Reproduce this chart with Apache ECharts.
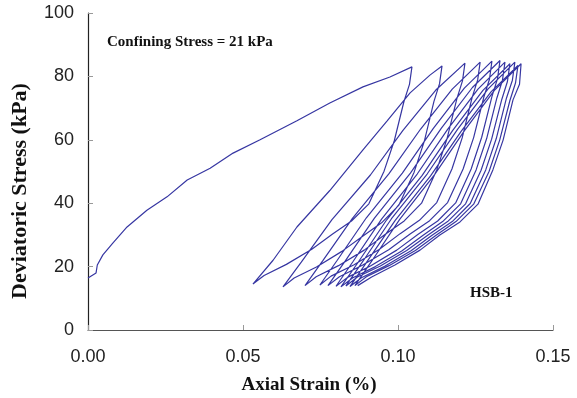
<!DOCTYPE html>
<html>
<head>
<meta charset="utf-8">
<script src="https://cdn.jsdelivr.net/npm/echarts@6/dist/echarts.min.js"></script>
<style>html,body{margin:0;padding:0;background:#fff}#c{width:577px;height:398px}</style>
</head>
<body>
<div id="c"></div>
<script>
// Axis ticks
const xTicks = [0, 0.05, 0.10, 0.15];
const yTicks = [0, 20, 40, 60, 80, 100];

// Initial loading branch (axial strain %, deviatoric stress kPa)
const initialLoading = [[0,16.4],[0.0026,18],[0.003,20.5],[0.0048,23.7],[0.008,27.4],[0.0126,32.5],[0.019,37.8],[0.0255,42],[0.032,47.3],[0.0394,51],[0.0468,55.8],[0.0555,60],[0.0674,66],[0.078,71.6],[0.0887,76.7],[0.0974,79.8],[0.1045,83]];

// Unloading branches (peak -> trough)
const unload1 = [[0.1045,83.0],[0.1037,77.5],[0.1019,72.0],[0.0988,59.7],[0.0955,50.1],[0.0906,39.8],[0.0850,34.4],[0.0789,30.3],[0.0722,25.5],[0.0640,20.7],[0.0568,17.2],[0.0532,14.5]];
const unload2 = [[0.1142,83.3],[0.1134,77.7],[0.1116,72.1],[0.1085,59.6],[0.1052,49.8],[0.1003,39.4],[0.0947,33.8],[0.0886,29.6],[0.0819,24.8],[0.0737,19.9],[0.0665,16.4],[0.0629,13.6]];
const unload3 = [[0.1216,84.2],[0.1208,78.6],[0.1190,73.0],[0.1158,60.3],[0.1125,50.5],[0.1076,40.0],[0.1020,34.4],[0.0958,30.1],[0.0891,25.2],[0.0808,20.3],[0.0736,16.8],[0.0700,14.0]];
const unload4 = [[0.1265,84.5],[0.1257,78.9],[0.1239,73.3],[0.1207,60.6],[0.1174,50.8],[0.1125,40.2],[0.1069,34.6],[0.1007,30.4],[0.0939,25.4],[0.0857,20.5],[0.0784,17.0],[0.0748,14.2]];
const unload5 = [[0.1303,84.8],[0.1295,79.1],[0.1277,73.5],[0.1244,60.7],[0.1210,50.8],[0.1160,40.2],[0.1102,34.5],[0.1039,30.3],[0.0970,25.3],[0.0885,20.4],[0.0811,16.8],[0.0774,14.0]];
const unload6 = [[0.1329,85.0],[0.1321,79.3],[0.1303,73.6],[0.1270,60.8],[0.1236,50.8],[0.1186,40.1],[0.1128,34.4],[0.1065,30.2],[0.0996,25.2],[0.0911,20.2],[0.0837,16.6],[0.0800,13.8]];
const unload7 = [[0.1345,84.5],[0.1337,78.8],[0.1319,73.2],[0.1286,60.4],[0.1252,50.5],[0.1202,39.8],[0.1144,34.2],[0.1081,29.9],[0.1012,24.9],[0.0927,20.0],[0.0853,16.4],[0.0816,13.6]];
const unload8 = [[0.1361,84.0],[0.1353,78.4],[0.1335,72.8],[0.1302,60.2],[0.1268,50.4],[0.1218,39.8],[0.1160,34.2],[0.1097,30.0],[0.1028,25.1],[0.0943,20.2],[0.0869,16.7],[0.0832,13.9]];
const unload9 = [[0.1377,84.5],[0.1369,78.8],[0.1350,73.2],[0.1317,60.4],[0.1283,50.5],[0.1233,39.9],[0.1175,34.2],[0.1111,30.0],[0.1042,25.0],[0.0957,20.1],[0.0882,16.5],[0.0845,13.7]];
const unload10 = [[0.1387,83.5],[0.1379,77.9],[0.1361,72.4],[0.1328,59.9],[0.1294,50.1],[0.1244,39.7],[0.1187,34.2],[0.1124,30.0],[0.1056,25.1],[0.0971,20.3],[0.0898,16.8],[0.0861,14.0]];
const unload11 = [[0.1397,84.0],[0.1392,77.5],[0.1371,72.6],[0.1339,59.9],[0.1306,50.5],[0.1258,39.7],[0.1200,34.1],[0.1135,30.0],[0.1071,25.2],[0.0990,20.5],[0.0915,16.7],[0.0870,14.0]];

// Reloading branches (trough -> next peak)
const reload1 = [[0.0532,14.5],[0.0597,22.0],[0.0674,32.5],[0.0780,44.0],[0.0887,56.8],[0.0965,66.0],[0.1039,74.8],[0.1103,80.4],[0.1142,83.3]];
const reload2 = [[0.0629,13.6],[0.0688,21.4],[0.0787,34.8],[0.0911,48.9],[0.1016,63.0],[0.1122,75.7],[0.1216,84.2]];
const reload3 = [[0.0700,14.0],[0.0757,21.8],[0.0853,35.2],[0.0971,49.3],[0.1073,63.4],[0.1175,76.0],[0.1265,84.5]];
const reload4 = [[0.0748,14.2],[0.0804,22.0],[0.0898,35.4],[0.1014,49.5],[0.1114,63.6],[0.1214,76.3],[0.1303,84.8]];
const reload5 = [[0.0774,14.0],[0.0830,21.8],[0.0924,35.3],[0.1040,49.5],[0.1140,63.7],[0.1240,76.5],[0.1329,85.0]];
const reload6 = [[0.0800,13.8],[0.0855,21.6],[0.0947,35.0],[0.1062,49.2],[0.1160,63.3],[0.1258,76.0],[0.1345,84.5]];
const reload7 = [[0.0816,13.6],[0.0871,21.3],[0.0963,34.7],[0.1078,48.8],[0.1176,62.9],[0.1274,75.6],[0.1361,84.0]];
const reload8 = [[0.0832,13.9],[0.0887,21.7],[0.0979,35.1],[0.1094,49.2],[0.1192,63.3],[0.1290,76.0],[0.1377,84.5]];
const reload9 = [[0.0845,13.7],[0.0899,21.4],[0.0991,34.6],[0.1105,48.6],[0.1203,62.6],[0.1300,75.1],[0.1387,83.5]];
const reload10 = [[0.0861,14.0],[0.0915,21.7],[0.1006,35.0],[0.1118,49.0],[0.1215,63.0],[0.1311,75.6],[0.1397,84.0]];

const path = [].concat(
  initialLoading, unload1, reload1, unload2, reload2, unload3, reload3, unload4, reload4,
  unload5, reload5, unload6, reload6, unload7, reload7, unload8, reload8, unload9, reload9,
  unload10, reload10, unload11
);

const chart = echarts.init(document.getElementById('c'), null, {renderer: 'canvas'});
chart.setOption({
  animation: false,
  backgroundColor: '#ffffff',
  grid: {left: 88, right: 24, top: 13, bottom: 68, containLabel: false},
  xAxis: {
    type: 'value', min: xTicks[0], max: xTicks[xTicks.length - 1], interval: 0.05,
    axisLine: {show: true, lineStyle: {color: '#555', width: 1.2}},
    axisTick: {show: true, inside: true, length: 5, lineStyle: {color: '#999'}},
    splitLine: {show: false},
    axisLabel: {fontFamily: 'Liberation Sans', fontSize: 18, color: '#222', margin: 18,
      formatter: v => v.toFixed(2)}
  },
  yAxis: {
    type: 'value', min: yTicks[0], max: yTicks[yTicks.length - 1], interval: 20,
    axisLine: {show: true, lineStyle: {color: '#222', width: 1.2}},
    axisTick: {show: true, inside: true, length: 5, lineStyle: {color: '#999'}},
    splitLine: {show: false},
    axisLabel: {fontFamily: 'Liberation Sans', fontSize: 18, color: '#222', margin: 14}
  },
  series: [{
    type: 'line', data: path, showSymbol: false, smooth: false,
    lineStyle: {color: '#3636a2', width: 1.2}
  }],
  graphic: [
    {type: 'text', x: 20, y: 191, rotation: Math.PI / 2, style: {
      x: 0, y: 0, text: 'Deviatoric Stress (kPa)', font: 'bold 22px "Liberation Serif"', fill: '#111',
      textAlign: 'center', textVerticalAlign: 'middle'}},
    {type: 'text', style: {x: 309, y: 385, text: 'Axial Strain (%)', font: 'bold 19px "Liberation Serif"',
      fill: '#111', textAlign: 'center', textVerticalAlign: 'middle'}},
    {type: 'text', style: {x: 107, y: 42, text: 'Confining Stress = 21 kPa', font: 'bold 15px "Liberation Serif"',
      fill: '#111', textAlign: 'left', textVerticalAlign: 'middle'}},
    {type: 'text', style: {x: 470, y: 293, text: 'HSB-1', font: 'bold 15px "Liberation Serif"',
      fill: '#111', textAlign: 'left', textVerticalAlign: 'middle'}}
  ]
});
</script>
</body>
</html>
